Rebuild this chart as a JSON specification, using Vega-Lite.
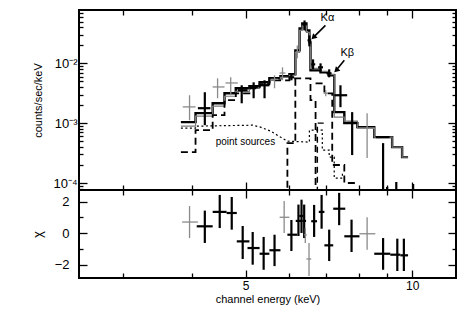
{
  "$schema": "https://vega.github.io/schema/vega-lite/v6.json",
  "padding": {"left": 30, "top": 8, "right": 0, "bottom": 0},
  "spacing": 0,
  "bounds": "flush",
  "config": {
    "font": "Liberation Sans",
    "view": {"stroke": "black", "strokeWidth": 2},
    "concat": {"spacing": 0},
    "axis": {"domain": false, "grid": false, "tickColor": "black", "labelColor": "black", "titleColor": "black", "labelFontSize": 13, "titleFontSize": 11, "titleFontWeight": "normal", "minExtent": 0, "tickWidth": 1.3}
  },
  "datasets": {
    "mod": [
      {"m": "k", "e": 3.82, "v": 0.00104}, {"m": "k", "e": 4.06, "v": 0.00147}, {"m": "k", "e": 4.36, "v": 0.00215}, {"m": "k", "e": 4.58, "v": 0.00316},
      {"m": "k", "e": 4.80, "v": 0.00383}, {"m": "k", "e": 5.08, "v": 0.00414}, {"m": "k", "e": 5.30, "v": 0.00482}, {"m": "k", "e": 5.52, "v": 0.00562},
      {"m": "k", "e": 5.78, "v": 0.00607}, {"m": "k", "e": 6.00, "v": 0.00656}, {"m": "k", "e": 6.15, "v": 0.0165}, {"m": "k", "e": 6.26, "v": 0.0383},
      {"m": "k", "e": 6.33, "v": 0.0464}, {"m": "k", "e": 6.44, "v": 0.0355}, {"m": "k", "e": 6.52, "v": 0.0224}, {"m": "k", "e": 6.55, "v": 0.00764},
      {"m": "k", "e": 6.83, "v": 0.00708}, {"m": "k", "e": 7.06, "v": 0.00631}, {"m": "k", "e": 7.23, "v": 0.00153}, {"m": "k", "e": 7.54, "v": 0.00100},
      {"m": "k", "e": 7.96, "v": 0.000858}, {"m": "k", "e": 8.54, "v": 0.000585}, {"m": "k", "e": 9.20, "v": 0.000398}, {"m": "k", "e": 9.59, "v": 0.000271},
      {"m": "k", "e": 9.83, "v": 0.000271},
      {"m": "g", "e": 3.82, "v": 0.000891}, {"m": "g", "e": 4.06, "v": 0.00131}, {"m": "g", "e": 4.36, "v": 0.00192}, {"m": "g", "e": 4.58, "v": 0.00282},
      {"m": "g", "e": 4.80, "v": 0.00341}, {"m": "g", "e": 5.08, "v": 0.00383}, {"m": "g", "e": 5.30, "v": 0.00447}, {"m": "g", "e": 5.52, "v": 0.00521},
      {"m": "g", "e": 5.78, "v": 0.00584}, {"m": "g", "e": 6.00, "v": 0.00631}, {"m": "g", "e": 6.15, "v": 0.01526}, {"m": "g", "e": 6.26, "v": 0.0355},
      {"m": "g", "e": 6.33, "v": 0.0430}, {"m": "g", "e": 6.44, "v": 0.0329}, {"m": "g", "e": 6.52, "v": 0.0207}, {"m": "g", "e": 6.55, "v": 0.00825},
      {"m": "g", "e": 6.83, "v": 0.00736}, {"m": "g", "e": 7.06, "v": 0.00656}, {"m": "g", "e": 7.23, "v": 0.00126}, {"m": "g", "e": 7.54, "v": 0.00108},
      {"m": "g", "e": 7.96, "v": 0.000825}, {"m": "g", "e": 8.54, "v": 0.000585}, {"m": "g", "e": 9.20, "v": 0.000398}, {"m": "g", "e": 9.59, "v": 0.000271},
      {"m": "g", "e": 9.83, "v": 0.000271}
    ],
    "paths": [
      {"p": "A", "i": 0, "e": 3.82, "v": 0.000329}, {"p": "A", "i": 1, "e": 4.06, "v": 0.000329}, {"p": "A", "i": 2, "e": 4.06, "v": 0.000764},
      {"p": "A", "i": 3, "e": 4.36, "v": 0.000764}, {"p": "A", "i": 4, "e": 4.36, "v": 0.00136}, {"p": "A", "i": 5, "e": 4.58, "v": 0.00136},
      {"p": "A", "i": 6, "e": 4.58, "v": 0.00242}, {"p": "A", "i": 7, "e": 4.80, "v": 0.00242}, {"p": "A", "i": 8, "e": 4.80, "v": 0.00316},
      {"p": "A", "i": 9, "e": 5.08, "v": 0.00316}, {"p": "A", "i": 10, "e": 5.08, "v": 0.00383}, {"p": "A", "i": 11, "e": 5.30, "v": 0.00383},
      {"p": "A", "i": 12, "e": 5.30, "v": 0.00447}, {"p": "A", "i": 13, "e": 5.52, "v": 0.00447}, {"p": "A", "i": 14, "e": 5.52, "v": 0.00521},
      {"p": "A", "i": 15, "e": 6.00, "v": 0.00521}, {"p": "A", "i": 16, "e": 6.00, "v": 0.00562}, {"p": "A", "i": 17, "e": 6.55, "v": 0.00562},
      {"p": "A", "i": 18, "e": 6.55, "v": 0.00242}, {"p": "A", "i": 19, "e": 6.69, "v": 0.00242}, {"p": "A", "i": 20, "e": 6.69, "v": 0.00001},
      {"p": "B", "i": 0, "e": 5.95, "v": 0.00001}, {"p": "B", "i": 1, "e": 5.95, "v": 0.000464}, {"p": "B", "i": 2, "e": 6.15, "v": 0.000464},
      {"p": "B", "i": 3, "e": 6.15, "v": 0.00562},
      {"p": "C", "i": 0, "e": 6.69, "v": 0.00464}, {"p": "C", "i": 1, "e": 6.94, "v": 0.00464}, {"p": "C", "i": 2, "e": 6.94, "v": 0.00316},
      {"p": "C", "i": 3, "e": 7.17, "v": 0.00316}, {"p": "C", "i": 4, "e": 7.17, "v": 0.0002}, {"p": "C", "i": 5, "e": 7.54, "v": 0.0002},
      {"p": "C", "i": 6, "e": 7.54, "v": 0.0001}, {"p": "C", "i": 7, "e": 7.99, "v": 0.0001},
      {"p": "D", "i": 0, "e": 6.74, "v": 0.00001}, {"p": "D", "i": 1, "e": 6.74, "v": 0.001}, {"p": "D", "i": 2, "e": 6.94, "v": 0.001},
      {"p": "P", "i": 0, "e": 3.82, "v": 0.000825}, {"p": "P", "i": 1, "e": 4.06, "v": 0.000825}, {"p": "P", "i": 2, "e": 4.06, "v": 0.000891},
      {"p": "P", "i": 3, "e": 5.15, "v": 0.000926}, {"p": "P", "i": 4, "e": 5.32, "v": 0.000858}, {"p": "P", "i": 5, "e": 5.55, "v": 0.000736},
      {"p": "P", "i": 6, "e": 5.78, "v": 0.000585}, {"p": "P", "i": 7, "e": 5.95, "v": 0.000501}, {"p": "P", "i": 8, "e": 6.52, "v": 0.000482},
      {"p": "P", "i": 9, "e": 6.52, "v": 0.000764}, {"p": "P", "i": 10, "e": 6.88, "v": 0.000764}, {"p": "P", "i": 11, "e": 6.88, "v": 0.000355},
      {"p": "P", "i": 12, "e": 7.08, "v": 0.000355}, {"p": "P", "i": 13, "e": 7.08, "v": 0.000271}, {"p": "P", "i": 14, "e": 7.23, "v": 0.000271},
      {"p": "P", "i": 15, "e": 7.23, "v": 0.000121}, {"p": "P", "i": 16, "e": 7.48, "v": 0.000121}, {"p": "P", "i": 17, "e": 7.48, "v": 0.000153}
    ],
    "pts": [
      {"s": "g", "e": 3.96, "elo": 3.85, "ehi": 4.06, "v": 0.00187, "vlo": 0.00112, "vhi": 0.00293},
      {"s": "k", "e": 4.22, "elo": 4.10, "ehi": 4.32, "v": 0.00178, "vlo": 0.000926, "vhi": 0.00329},
      {"s": "g", "e": 4.45, "elo": 4.36, "ehi": 4.58, "v": 0.00403, "vlo": 0.00261, "vhi": 0.00562},
      {"s": "g", "e": 4.70, "elo": 4.60, "ehi": 4.84, "v": 0.00470, "vlo": 0.00293, "vhi": 0.00584},
      {"s": "k", "e": 4.92, "elo": 4.84, "ehi": 5.04, "v": 0.00355, "vlo": 0.00215, "vhi": 0.00430},
      {"s": "k", "e": 5.17, "elo": 5.08, "ehi": 5.26, "v": 0.00398, "vlo": 0.00261, "vhi": 0.00482},
      {"s": "k", "e": 5.41, "elo": 5.30, "ehi": 5.52, "v": 0.00430, "vlo": 0.00261, "vhi": 0.00521},
      {"s": "g", "e": 5.64, "elo": 5.55, "ehi": 5.73, "v": 0.00541, "vlo": 0.00383, "vhi": 0.00631},
      {"s": "g", "e": 5.83, "elo": 5.76, "ehi": 5.90, "v": 0.00689, "vlo": 0.00521, "vhi": 0.00858},
      {"s": "k", "e": 6.05, "elo": 5.98, "ehi": 6.12, "v": 0.00584, "vlo": 0.00521, "vhi": 0.00681},
      {"s": "g", "e": 6.20, "elo": 6.15, "ehi": 6.25, "v": 0.01526, "vlo": 0.01212, "vhi": 0.01995},
      {"s": "k", "e": 6.39, "elo": 6.33, "ehi": 6.45, "v": 0.0447, "vlo": 0.0355, "vhi": 0.0521},
      {"s": "k", "e": 6.52, "elo": 6.47, "ehi": 6.57, "v": 0.0242, "vlo": 0.0192, "vhi": 0.0293},
      {"s": "k", "e": 6.62, "elo": 6.57, "ehi": 6.68, "v": 0.00962, "vlo": 0.00794, "vhi": 0.01166},
      {"s": "k", "e": 6.83, "elo": 6.76, "ehi": 6.90, "v": 0.00858, "vlo": 0.00708, "vhi": 0.0100},
      {"s": "k", "e": 7.08, "elo": 7.00, "ehi": 7.15, "v": 0.00681, "vlo": 0.00584, "vhi": 0.00794},
      {"s": "k", "e": 7.42, "elo": 7.23, "ehi": 7.63, "v": 0.00293, "vlo": 0.00185, "vhi": 0.00430},
      {"s": "g", "e": 6.98, "elo": 6.92, "ehi": 7.04, "v": 0.00316, "vlo": 0.00282, "vhi": 0.00355},
      {"s": "k", "e": 7.79, "elo": 7.63, "ehi": 7.96, "v": 0.00101, "vlo": 0.000293, "vhi": 0.00153},
      {"s": "g", "e": 8.29, "elo": 8.00, "ehi": 8.60, "v": 0.000825, "vlo": 0.000261, "vhi": 0.00147},
      {"s": "k", "e": 8.86, "elo": 8.60, "ehi": 9.10, "v": 0.000585, "vlo": 0.00001, "vhi": 0.000464},
      {"s": "k", "e": 9.01, "elo": 9.01, "ehi": 9.01, "v": 0.00001, "vlo": 0.00001, "vhi": 0.0000858},
      {"s": "k", "e": 9.36, "elo": 9.36, "ehi": 9.36, "v": 0.00001, "vlo": 0.00001, "vhi": 0.000104},
      {"s": "k", "e": 10.04, "elo": 10.04, "ehi": 10.04, "v": 0.00001, "vlo": 0.00001, "vhi": 0.0000962}
    ],
    "chi": [
      {"s": "g", "e": 3.96, "elo": 3.84, "ehi": 4.10, "c": 0.71, "clo": -0.30, "chi": 1.72},
      {"s": "k", "e": 4.22, "elo": 4.08, "ehi": 4.36, "c": 0.44, "clo": -0.61, "chi": 1.43},
      {"s": "k", "e": 4.49, "elo": 4.36, "ehi": 4.62, "c": 1.35, "clo": 0.33, "chi": 2.42},
      {"s": "k", "e": 4.72, "elo": 4.62, "ehi": 4.82, "c": 1.28, "clo": 0.23, "chi": 2.29},
      {"s": "k", "e": 4.94, "elo": 4.82, "ehi": 5.08, "c": -0.51, "clo": -1.62, "chi": 0.46},
      {"s": "k", "e": 5.15, "elo": 5.04, "ehi": 5.30, "c": -0.93, "clo": -1.98, "chi": 0.08},
      {"s": "k", "e": 5.39, "elo": 5.30, "ehi": 5.52, "c": -1.29, "clo": -2.30, "chi": -0.23},
      {"s": "k", "e": 5.64, "elo": 5.52, "ehi": 5.78, "c": -1.07, "clo": -2.07, "chi": -0.09},
      {"s": "g", "e": 5.87, "elo": 5.76, "ehi": 6.00, "c": 1.01, "clo": 0.02, "chi": 2.04},
      {"s": "k", "e": 6.05, "elo": 5.95, "ehi": 6.20, "c": -0.09, "clo": -1.12, "chi": 0.84},
      {"s": "k", "e": 6.23, "elo": 6.16, "ehi": 6.30, "c": 0.78, "clo": -0.17, "chi": 1.81},
      {"s": "k", "e": 6.31, "elo": 6.25, "ehi": 6.36, "c": 1.09, "clo": 0.02, "chi": 2.12},
      {"s": "k", "e": 6.38, "elo": 6.33, "ehi": 6.43, "c": 0.78, "clo": -0.30, "chi": 1.81},
      {"s": "g", "e": 6.41, "elo": 6.38, "ehi": 6.45, "c": -0.10, "clo": -0.61, "chi": 0.33},
      {"s": "g", "e": 6.51, "elo": 6.44, "ehi": 6.57, "c": -1.62, "clo": -2.70, "chi": -0.61},
      {"s": "k", "e": 6.65, "elo": 6.57, "ehi": 6.73, "c": 0.76, "clo": -0.23, "chi": 1.79},
      {"s": "k", "e": 6.86, "elo": 6.78, "ehi": 6.94, "c": 1.35, "clo": 0.29, "chi": 2.42},
      {"s": "k", "e": 7.08, "elo": 6.94, "ehi": 7.20, "c": -0.76, "clo": -1.75, "chi": 0.23},
      {"s": "k", "e": 7.38, "elo": 7.20, "ehi": 7.57, "c": 1.55, "clo": 0.51, "chi": 2.55},
      {"s": "k", "e": 7.77, "elo": 7.54, "ehi": 8.03, "c": -0.19, "clo": -1.18, "chi": 0.86},
      {"s": "g", "e": 8.29, "elo": 8.03, "ehi": 8.58, "c": -0.03, "clo": -1.04, "chi": 1.01},
      {"s": "k", "e": 8.86, "elo": 8.54, "ehi": 9.13, "c": -1.29, "clo": -2.30, "chi": -0.30},
      {"s": "k", "e": 9.40, "elo": 9.13, "ehi": 9.52, "c": -1.35, "clo": -2.38, "chi": -0.34},
      {"s": "k", "e": 9.66, "elo": 9.52, "ehi": 9.83, "c": -1.39, "clo": -2.38, "chi": -0.34}
    ],
    "ann": [
      {"g": "line", "t": "Kα", "e": 6.83, "v": 0.0562},
      {"g": "line", "t": "Kβ", "e": 7.42, "v": 0.01468},
      {"g": "src", "t": "point sources", "e": 4.415, "v": 0.000482}
    ],
    "arrows": [
      {"e": 6.97, "v": 0.0430, "e2": 6.63, "v2": 0.0271},
      {"e": 7.54, "v": 0.01122, "e2": 7.29, "v2": 0.00764}
    ]
  },
  "vconcat": [
    {
      "width": 377,
      "height": 180,
      "resolve": {"axis": {"x": "independent", "y": "independent"}},
      "layer": [
        {
          "data": {"name": "mod"},
          "transform": [{"filter": "datum.m == 'k'"}],
          "mark": {"type": "line", "interpolate": "step-after", "color": "black", "strokeWidth": 2.4, "clip": true},
          "encoding": {
            "x": {"field": "e", "type": "quantitative", "scale": {"type": "log", "domain": [2.5, 12], "nice": false},
                  "axis": {"orient": "bottom", "values": [3, 4, 5, 6, 7, 8, 9, 10], "labels": false, "title": null,
                           "tickSize": {"condition": {"test": "datum.value == 5 || datum.value == 10", "value": -8}, "value": -5}}},
            "y": {"field": "v", "type": "quantitative", "scale": {"type": "log", "domain": [0.0000764, 0.0779], "nice": false},
                  "axis": {"orient": "left", "title": "counts/sec/keV", "titlePadding": 9,
                           "values": [0.00008, 0.00009, 0.0001, 0.0002, 0.0003, 0.0004, 0.0005, 0.0006, 0.0007, 0.0008, 0.0009, 0.001, 0.002, 0.003, 0.004, 0.005, 0.006, 0.007, 0.008, 0.009, 0.01, 0.02, 0.03, 0.04, 0.05, 0.06, 0.07],
                           "labelExpr": "datum.value == 0.01 ? '10⁻²' : datum.value == 0.001 ? '10⁻³' : datum.value == 0.0001 ? '10⁻⁴' : ''",
                           "labelPadding": 10,
                           "tickSize": {"condition": {"test": "datum.value == 0.01 || datum.value == 0.001 || datum.value == 0.0001", "value": -8}, "value": -4}}}
          }
        },
        {
          "data": {"name": "mod"},
          "transform": [{"filter": "datum.m == 'g'"}],
          "mark": {"type": "line", "interpolate": "step-after", "color": "#7a7a7a", "strokeWidth": 1.2, "clip": true},
          "encoding": {
            "x": {"field": "e", "type": "quantitative", "scale": {"type": "log", "domain": [2.5, 12], "nice": false},
                  "axis": {"orient": "top", "values": [3, 4, 5, 6, 7, 8, 9, 10], "labels": false, "title": null,
                           "tickSize": {"condition": {"test": "datum.value == 5 || datum.value == 10", "value": -8}, "value": -5}}},
            "y": {"field": "v", "type": "quantitative", "scale": {"type": "log", "domain": [0.0000764, 0.0779], "nice": false},
                  "axis": {"orient": "right", "title": null, "labels": false,
                           "values": [0.00008, 0.00009, 0.0001, 0.0002, 0.0003, 0.0004, 0.0005, 0.0006, 0.0007, 0.0008, 0.0009, 0.001, 0.002, 0.003, 0.004, 0.005, 0.006, 0.007, 0.008, 0.009, 0.01, 0.02, 0.03, 0.04, 0.05, 0.06, 0.07],
                           "tickSize": {"condition": {"test": "datum.value == 0.01 || datum.value == 0.001 || datum.value == 0.0001", "value": -8}, "value": -4}}}
          }
        },
        {
          "data": {"name": "paths"},
          "transform": [{"filter": "datum.p == 'A' || datum.p == 'B' || datum.p == 'C'"}],
          "mark": {"type": "line", "color": "black", "strokeWidth": 1.8, "strokeDash": [7, 4], "clip": true},
          "encoding": {
            "x": {"field": "e", "type": "quantitative", "scale": {"type": "log", "domain": [2.5, 12], "nice": false}, "axis": null},
            "y": {"field": "v", "type": "quantitative", "scale": {"type": "log", "domain": [0.0000764, 0.0779], "nice": false}, "axis": null},
            "detail": {"field": "p"},
            "order": {"field": "i", "type": "quantitative"}
          }
        },
        {
          "data": {"name": "paths"},
          "transform": [{"filter": "datum.p == 'D'"}],
          "mark": {"type": "line", "color": "black", "strokeWidth": 1.4, "strokeDash": [6, 4], "clip": true},
          "encoding": {
            "x": {"field": "e", "type": "quantitative", "scale": {"type": "log", "domain": [2.5, 12], "nice": false}, "axis": null},
            "y": {"field": "v", "type": "quantitative", "scale": {"type": "log", "domain": [0.0000764, 0.0779], "nice": false}, "axis": null},
            "order": {"field": "i", "type": "quantitative"}
          }
        },
        {
          "data": {"name": "paths"},
          "transform": [{"filter": "datum.p == 'P'"}],
          "mark": {"type": "line", "color": "black", "strokeWidth": 1.2, "strokeDash": [2, 2.5], "clip": true},
          "encoding": {
            "x": {"field": "e", "type": "quantitative", "scale": {"type": "log", "domain": [2.5, 12], "nice": false}, "axis": null},
            "y": {"field": "v", "type": "quantitative", "scale": {"type": "log", "domain": [0.0000764, 0.0779], "nice": false}, "axis": null},
            "order": {"field": "i", "type": "quantitative"}
          }
        },
        {
          "data": {"name": "pts"},
          "mark": {"type": "rule", "clip": true},
          "encoding": {
            "x": {"field": "e", "type": "quantitative", "scale": {"type": "log", "domain": [2.5, 12], "nice": false}, "axis": null},
            "y": {"field": "vlo", "type": "quantitative", "scale": {"type": "log", "domain": [0.0000764, 0.0779], "nice": false}, "axis": null},
            "y2": {"field": "vhi"},
            "color": {"field": "s", "type": "nominal", "scale": {"domain": ["k", "g"], "range": ["#000000", "#8a8a8a"]}, "legend": null},
            "strokeWidth": {"field": "s", "type": "nominal", "scale": {"domain": ["k", "g"], "range": [2.2, 1.3]}, "legend": null}
          }
        },
        {
          "data": {"name": "pts"},
          "mark": {"type": "rule", "clip": true},
          "encoding": {
            "x": {"field": "elo", "type": "quantitative", "scale": {"type": "log", "domain": [2.5, 12], "nice": false}, "axis": null},
            "x2": {"field": "ehi"},
            "y": {"field": "v", "type": "quantitative", "scale": {"type": "log", "domain": [0.0000764, 0.0779], "nice": false}, "axis": null},
            "color": {"field": "s", "type": "nominal", "scale": {"domain": ["k", "g"], "range": ["#000000", "#8a8a8a"]}, "legend": null},
            "strokeWidth": {"field": "s", "type": "nominal", "scale": {"domain": ["k", "g"], "range": [2.2, 1.3]}, "legend": null}
          }
        },
        {
          "data": {"name": "ann"},
          "transform": [{"filter": "datum.g == 'line'"}],
          "mark": {"type": "text", "align": "left", "baseline": "middle", "fontSize": 11, "color": "black"},
          "encoding": {
            "x": {"field": "e", "type": "quantitative", "scale": {"type": "log", "domain": [2.5, 12], "nice": false}, "axis": null},
            "y": {"field": "v", "type": "quantitative", "scale": {"type": "log", "domain": [0.0000764, 0.0779], "nice": false}, "axis": null},
            "text": {"field": "t"}
          }
        },
        {
          "data": {"name": "ann"},
          "transform": [{"filter": "datum.g == 'src'"}],
          "mark": {"type": "text", "align": "left", "baseline": "middle", "fontSize": 10, "color": "black"},
          "encoding": {
            "x": {"field": "e", "type": "quantitative", "scale": {"type": "log", "domain": [2.5, 12], "nice": false}, "axis": null},
            "y": {"field": "v", "type": "quantitative", "scale": {"type": "log", "domain": [0.0000764, 0.0779], "nice": false}, "axis": null},
            "text": {"field": "t"}
          }
        },
        {
          "data": {"name": "arrows"},
          "mark": {"type": "rule", "color": "black", "strokeWidth": 1.6},
          "encoding": {
            "x": {"field": "e", "type": "quantitative", "scale": {"type": "log", "domain": [2.5, 12], "nice": false}, "axis": null},
            "y": {"field": "v", "type": "quantitative", "scale": {"type": "log", "domain": [0.0000764, 0.0779], "nice": false}, "axis": null},
            "x2": {"field": "e2"},
            "y2": {"field": "v2"}
          }
        },
        {
          "data": {"name": "arrows"},
          "mark": {"type": "point", "shape": "triangle-up", "angle": 225, "filled": true, "color": "black", "size": 40, "opacity": 1},
          "encoding": {
            "x": {"field": "e2", "type": "quantitative", "scale": {"type": "log", "domain": [2.5, 12], "nice": false}, "axis": null},
            "y": {"field": "v2", "type": "quantitative", "scale": {"type": "log", "domain": [0.0000764, 0.0779], "nice": false}, "axis": null}
          }
        }
      ]
    },
    {
      "width": 377,
      "height": 88,
      "resolve": {"axis": {"x": "independent", "y": "independent"}},
      "layer": [
        {
          "mark": {"type": "rule", "color": "#555555", "strokeWidth": 1.3, "strokeDash": [9, 6]},
          "encoding": {
            "y": {"datum": 0, "type": "quantitative", "scale": {"domain": [-2.82, 2.73], "nice": false},
                  "axis": {"orient": "left", "title": "χ", "titleFontSize": 13, "titlePadding": 10, "values": [-2, -1, 0, 1, 2],
                           "labelExpr": "datum.value % 2 == 0 ? datum.label : ''", "labelPadding": 18,
                           "tickSize": {"condition": {"test": "datum.value % 2 == 0", "value": -8}, "value": -4}}}
          }
        },
        {
          "data": {"name": "chi"},
          "mark": {"type": "rule", "clip": true},
          "encoding": {
            "x": {"field": "e", "type": "quantitative", "scale": {"type": "log", "domain": [2.5, 12], "nice": false},
                  "axis": {"orient": "bottom", "values": [3, 4, 5, 6, 7, 8, 9, 10], "title": "channel energy (keV)", "titlePadding": 2,
                           "labelExpr": "datum.value == 5 || datum.value == 10 ? '' + datum.value : ''", "labelPadding": 10, "labelFontSize": 12,
                           "tickSize": {"condition": {"test": "datum.value == 5 || datum.value == 10", "value": -8}, "value": -5}}},
            "y": {"field": "clo", "type": "quantitative", "scale": {"domain": [-2.82, 2.73], "nice": false},
                  "axis": {"orient": "right", "title": null, "labels": false, "values": [-2, -1, 0, 1, 2],
                           "tickSize": {"condition": {"test": "datum.value % 2 == 0", "value": -8}, "value": -4}}},
            "y2": {"field": "chi"},
            "color": {"field": "s", "type": "nominal", "scale": {"domain": ["k", "g"], "range": ["#000000", "#8a8a8a"]}, "legend": null},
            "strokeWidth": {"field": "s", "type": "nominal", "scale": {"domain": ["k", "g"], "range": [2.2, 1.3]}, "legend": null}
          }
        },
        {
          "data": {"name": "chi"},
          "mark": {"type": "rule", "clip": true},
          "encoding": {
            "x": {"field": "elo", "type": "quantitative", "scale": {"type": "log", "domain": [2.5, 12], "nice": false},
                  "axis": {"orient": "top", "values": [3, 4, 5, 6, 7, 8, 9, 10], "labels": false, "title": null,
                           "tickSize": {"condition": {"test": "datum.value == 5 || datum.value == 10", "value": -8}, "value": -5}}},
            "x2": {"field": "ehi"},
            "y": {"field": "c", "type": "quantitative", "scale": {"domain": [-2.82, 2.73], "nice": false}, "axis": null},
            "color": {"field": "s", "type": "nominal", "scale": {"domain": ["k", "g"], "range": ["#000000", "#8a8a8a"]}, "legend": null},
            "strokeWidth": {"field": "s", "type": "nominal", "scale": {"domain": ["k", "g"], "range": [2.2, 1.3]}, "legend": null}
          }
        }
      ]
    }
  ]
}
